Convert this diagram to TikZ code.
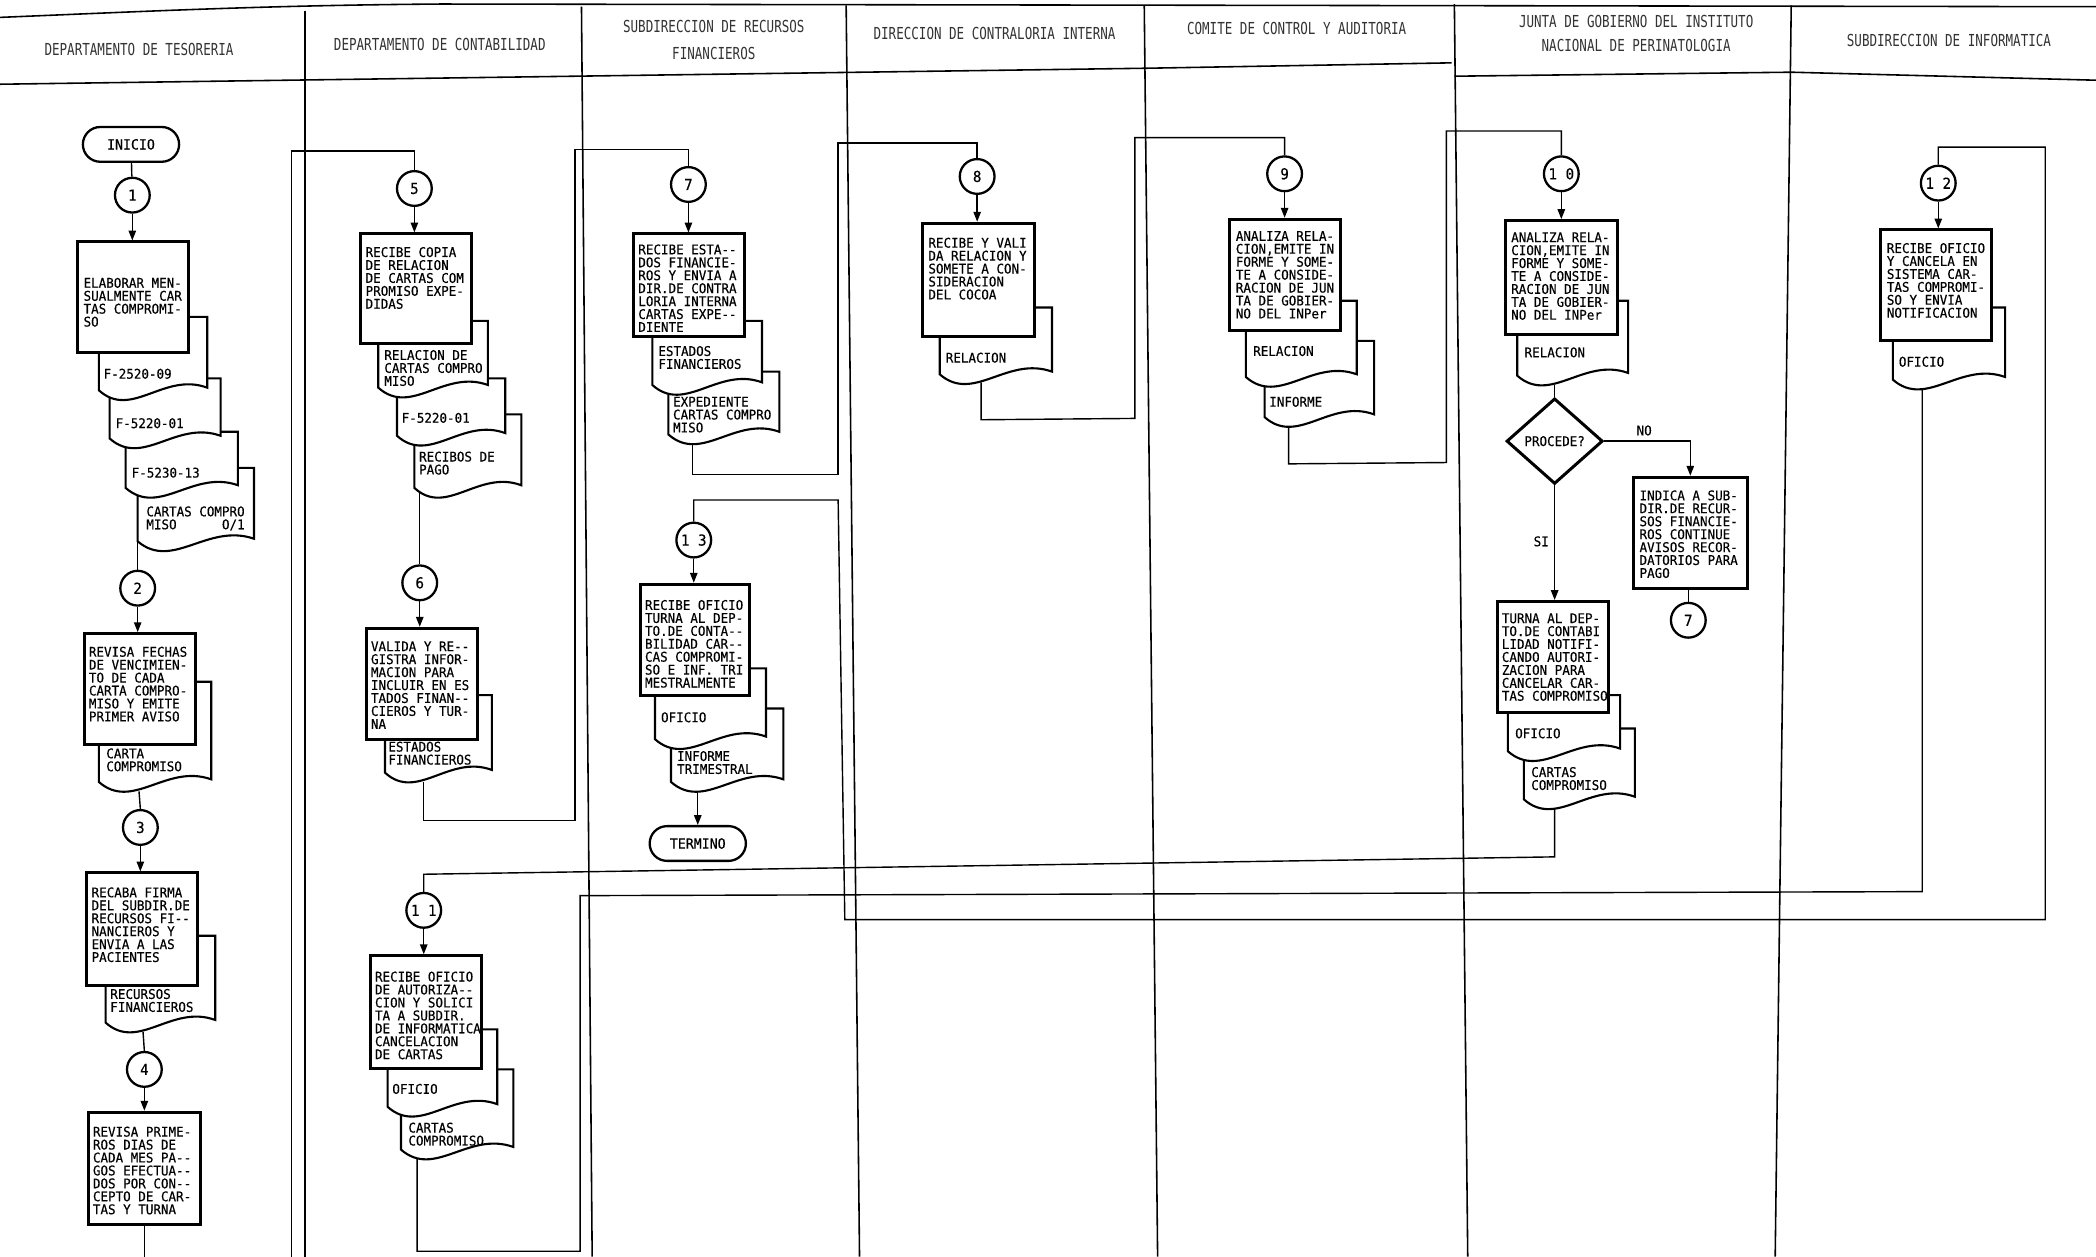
\documentclass[tikz,border=0pt]{standalone}
\usepackage{fontspec}
\newfontfamily\boxfont[FakeStretch=0.94,FakeBold=0.3]{DejaVu Sans Mono}
\newfontfamily\hdfont[FakeStretch=0.76]{DejaVu Sans Mono}
\usetikzlibrary{shapes.misc,shapes.geometric,arrows.meta,calc}
\newcommand{\pxu}{0.013367cm}
\newcommand{\dblh}{-\kern0pt-}
\pgfdeclarelayer{back}
\pgfdeclarelayer{bg}
\pgfsetlayers{back,bg,main}
\tikzset{
  procbox/.style={draw, fill=white, line width=0.85pt, rectangle, inner sep=0pt},
  conn/.style={draw, fill=white, circle, line width=0.65pt, inner sep=0pt, minimum size=26*\pxu, font=\boxfont\fontsize{4.3}{4.5}\selectfont},
  term/.style={draw, fill=white, rounded rectangle, line width=0.65pt, inner sep=0pt, minimum width=72*\pxu, minimum height=26*\pxu, font=\boxfont\fontsize{4}{4.5}\selectfont},
  dia/.style={draw, fill=white, diamond, line width=0.85pt, inner sep=0pt, minimum width=72*\pxu, minimum height=64*\pxu, font=\boxfont\fontsize{3.8}{3.7}\selectfont},
  btxt/.style={inner sep=0pt, align=left, anchor=north west, font=\boxfont\fontsize{3.8}{3.68}\selectfont},
  lbl/.style={inner sep=0pt, font=\boxfont\fontsize{3.8}{3.7}\selectfont},
  docst/.style={draw, fill=white, line width=0.6pt},
  flow/.style={draw, line width=0.4pt},
  arr/.style={flow, -{Triangle[length=2.8pt,width=2.1pt]}},
  lane/.style={draw, line width=0.45pt},
  htxt/.style={inner sep=0pt, align=center, font=\hdfont\fontsize{4.7}{7.4}\selectfont, text=black!80},
}
\newcommand{\pbox}[5]{\node[procbox, minimum width={(#4-#2)*\pxu}, minimum height={(#5-#3)*\pxu}] (#1) at ({(#2+#4)/2},{(#3+#5)/2}) {};}
\newcommand{\docu}[5]{%
  \draw[docst] (#2,#3) -- (#2,#5) .. controls ($(#2,#5)!0.3!(#4,#5)+(0,22)$) and ($(#2,#5)!0.6!(#4,#5)+(0,-14)$) .. ($(#4,#5)+(0,-2)$) -- (#4,#3) -- cycle;
  \coordinate (#1) at ($(#2,#5)!0.27!(#4,#5)+(0,7)$);}
\newcommand{\tx}[4]{\node[btxt] (#1) at (#2,{#3-3.7}) {#4};}
\begin{document}
\begin{tikzpicture}[x=0.013367cm, y=-0.013367cm]
\useasboundingbox (0,0) rectangle (1568,940);
\begin{pgfonlayer}{back}
\fill[white] (0,0) rectangle (1568,940);
\draw[lane] (0,13) .. controls (120,8) and (200,4) .. (330,3) -- (1568,5);
\draw[lane] (0,63) -- (430,57) -- (860,51) -- (1086,47);
\draw[lane] (1088,57) -- (1340,54) -- (1568,60);
\draw[lane] (228,8) -- (228,940);
\draw[lane] (435,5) -- (443,940);
\draw[lane] (633,4) -- (643,940);
\draw[lane] (856,4) -- (866,940);
\draw[lane] (1088,3) -- (1098,940);
\draw[lane] (1340,4) -- (1328,940);
\end{pgfonlayer}

% headers
\node[htxt] (h1) at (104,37) {DEPARTAMENTO DE TESORERIA};
\node[htxt] (h2) at (329,33) {DEPARTAMENTO DE CONTABILIDAD};
\node[htxt, font=\hdfont\fontsize{4.7}{7.6}\selectfont] (h3) at (534,30) {SUBDIRECCION DE RECURSOS\\FINANCIEROS};
\node[htxt] (h4) at (744,25) {DIRECCION DE CONTRALORIA INTERNA};
\node[htxt] (h5) at (970,21) {COMITE DE CONTROL Y AUDITORIA};
\node[htxt, font=\hdfont\fontsize{4.7}{6.8}\selectfont] (h6) at (1224,25) {JUNTA DE GOBIERNO DEL INSTITUTO\\NACIONAL DE PERINATOLOGIA};
\node[htxt] (h7) at (1458,30) {SUBDIRECCION DE INFORMATICA};

% Lane 1
\node[term] (inicio) at (98,108) {INICIO};
\node[conn] (c1) at (99,146) {1};
\docu{d1d}{103}{350}{190}{405}
\tx{t1d}{109}{382}{CARTAS COMPRO\\MISO~~~~~~O/1}
\docu{d1c}{94}{323}{178}{365}
\tx{t1c}{98}{353}{F-5230-13}
\docu{d1b}{82}{283}{165}{328}
\tx{t1b}{86}{316}{F-5220-01}
\docu{d1a}{74}{237}{155}{292}
\tx{t1a}{77}{279}{F-2520-09}
\pbox{b1}{58}{181}{141}{264}
\tx{t1}{62}{211}{ELABORAR MEN-\\SUALMENTE CAR\\TAS COMPROMI-\\SO}

\node[conn] (c2) at (103,440) {2};
\docu{d2}{74}{510}{158}{585}
\tx{t2d}{79}{563}{CARTA\\COMPROMISO}
\pbox{b2}{63}{474}{146}{557}
\tx{t2}{66}{487}{REVISA FECHAS\\DE VENCIMIEN-\\TO DE CADA\\CARTA COMPRO-\\MISO Y EMITE\\PRIMER AVISO}

\node[conn] (c3) at (105,619) {3};
\docu{d3}{79}{700}{161}{765}
\tx{t3d}{82}{743}{RECURSOS\\FINANCIEROS}
\pbox{b3}{65}{653}{148}{737}
\tx{t3}{68}{667}{RECABA FIRMA\\DEL SUBDIR.DE\\RECURSOS FI\dblh\\NANCIEROS Y\\ENVIA A LAS\\PACIENTES}

\node[conn] (c4) at (108,800) {4};
\pbox{b4}{66}{832}{150}{916}
\tx{t4}{69}{846}{REVISA PRIME-\\ROS DIAS DE\\CADA MES PA\dblh\\GOS EFECTUA\dblh\\DOS POR CON\dblh\\CEPTO DE CAR-\\TAS Y TURNA}

% Lane 2
\node[conn] (c5) at (310,141) {5};
\docu{d5c}{310}{310}{390}{365}
\tx{t5c}{313}{341}{RECIBOS DE\\PAGO}
\docu{d5b}{297}{283}{378}{326}
\tx{t5b}{300}{312}{F-5220-01}
\docu{d5a}{283}{240}{365}{290}
\tx{t5a}{287}{265}{RELACION DE\\CARTAS COMPRO\\MISO}
\pbox{b5}{270}{175}{353}{257}
\tx{t5}{273}{188}{RECIBE COPIA\\DE RELACION\\DE CARTAS COM\\PROMISO EXPE-\\DIDAS}

\node[conn] (c6) at (314,436) {6};
\docu{d6}{288}{520}{368}{578}
\tx{t6d}{290}{558}{ESTADOS\\FINANCIEROS}
\pbox{b6}{274}{470}{357}{553}
\tx{t6}{277}{483}{VALIDA Y RE\dblh\\GISTRA INFOR-\\MACION PARA\\INCLUIR EN ES\\TADOS FINAN\dblh\\CIEROS Y TUR-\\NA}

\node[conn] (c11) at (317,681) {1 1};
\docu{d11b}{300}{800}{384}{860}
\tx{t11b}{305}{843}{CARTAS\\COMPROMISO}
\docu{d11a}{290}{770}{372}{828}
\tx{t11a}{293}{814}{OFICIO}
\pbox{b11}{277}{715}{360}{799}
\tx{t11}{280}{730}{RECIBE OFICIO\\DE AUTORIZA\dblh\\CION Y SOLICI\\TA A SUBDIR.\\DE INFORMATICA\\CANCELACION\\DE CARTAS}

% Lane 3
\node[conn] (c7) at (515,138) {7};
\docu{d7b}{500}{278}{583}{325}
\tx{t7b}{503}{300}{EXPEDIENTE\\CARTAS COMPRO\\MISO}
\docu{d7a}{488}{240}{570}{288}
\tx{t7a}{492}{262}{ESTADOS\\FINANCIEROS}
\pbox{b7}{474}{175}{557}{252}
\tx{t7}{477}{186}{RECIBE ESTA\dblh\\DOS FINANCIE-\\ROS Y ENVIA A\\DIR.DE CONTRA\\LORIA INTERNA\\CARTAS EXPE\dblh\\DIENTE}

\node[conn] (c13) at (519,404) {1 3};
\docu{d13b}{502}{530}{586}{585}
\tx{t13b}{506}{565}{INFORME\\TRIMESTRAL}
\docu{d13a}{490}{500}{573}{553}
\tx{t13a}{494}{536}{OFICIO}
\pbox{b13}{479}{437}{561}{520}
\tx{t13}{482}{452}{RECIBE OFICIO\\TURNA AL DEP-\\TO.DE CONTA\dblh\\BILIDAD CAR\dblh\\CAS COMPROMI-\\SO E INF. TRI\\MESTRALMENTE}
\node[term] (fin) at (522,631) {TERMINO};

% Lane 4
\node[conn] (c8) at (731,132) {8};
\docu{d8}{703}{230}{787}{280}
\tx{t8d}{707}{267}{RELACION}
\pbox{b8}{690}{167}{774}{252}
\tx{t8}{694}{181}{RECIBE Y VALI\\DA RELACION Y\\SOMETE A CON-\\SIDERACION\\DEL COCOA}

% Lane 5
\node[conn] (c9) at (961,130) {9};
\docu{d9b}{946}{255}{1028}{312}
\tx{t9b}{949}{300}{INFORME}
\docu{d9a}{932}{225}{1015}{282}
\tx{t9a}{937}{262}{RELACION}
\pbox{b9}{920}{164}{1003}{247}
\tx{t9}{924}{176}{ANALIZA RELA-\\CION,EMITE IN\\FORME Y SOME-\\TE A CONSIDE-\\RACION DE JUN\\TA DE GOBIER-\\NO DEL INPer}

% Lane 6
\node[conn] (c10) at (1168,130) {1 0};
\docu{d10}{1135}{225}{1218}{281}
\tx{t10d}{1140}{263}{RELACION}
\pbox{b10}{1126}{165}{1210}{250}
\tx{t10}{1130}{177}{ANALIZA RELA-\\CION,EMITE IN\\FORME Y SOME-\\TE A CONSIDE-\\RACION DE JUN\\TA DE GOBIER-\\NO DEL INPer}
\node[dia] (dia) at (1163,330) {PROCEDE?};
\pbox{bno}{1222}{357}{1307}{440}
\tx{tno}{1226}{370}{INDICA A SUB-\\DIR.DE RECUR-\\SOS FINANCIE-\\ROS CONTINUE\\AVISOS RECOR-\\DATORIOS PARA\\PAGO}
\node[conn] (c7b) at (1263,464) {7};
\docu{d10sb}{1140}{545}{1223}{598}
\tx{t10sb}{1145}{577}{CARTAS\\COMPROMISO}
\docu{d10sa}{1128}{520}{1212}{562}
\tx{t10sa}{1133}{548}{OFICIO}
\pbox{bsi}{1120}{450}{1203}{533}
\tx{tsi}{1123}{462}{TURNA AL DEP-\\TO.DE CONTABI\\LIDAD NOTIFI-\\CANDO AUTORI-\\ZACION PARA\\CANCELAR CAR-\\TAS COMPROMISO}
\node[lbl] (lno) at (1230,322) {NO};
\node[lbl] (lsi) at (1153,405) {SI};

% Lane 7
\node[conn] (c12) at (1450,137) {1 2};
\docu{d12}{1416}{230}{1500}{284}
\tx{t12d}{1420}{270}{OFICIO}
\pbox{b12}{1407}{172}{1490}{255}
\tx{t12}{1411}{185}{RECIBE OFICIO\\Y CANCELA EN\\SISTEMA CAR-\\TAS COMPROMI-\\SO Y ENVIA\\NOTIFICACION}

% connectors
\begin{pgfonlayer}{bg}
\coordinate (e1) at (103,395);
\coordinate (e2) at (104,592);
\coordinate (e3) at (107,772);
\coordinate (e4) at (108,940);
\coordinate (e5in) at (218,940);
\coordinate (e5) at (314,368);
\coordinate (e6) at (317,585);
\coordinate (e7) at (518,331);
\coordinate (e8) at (734,286);
\coordinate (e9) at (964,319);
\coordinate (e10) at (1163,288);
\coordinate (e10s) at (1163,605);
\coordinate (e11) at (312,866);
\coordinate (e12) at (1438,290);
\coordinate (e13) at (522,591);
\draw[flow] (inicio) -- (c1);
\draw[arr] (c1) -- (c1 |- b1.north);
\draw[flow] (e1) -- (c2.north);
\draw[arr] (c2) -- (c2 |- b2.north);
\draw[flow] (e2) -- (c3.north);
\draw[arr] (c3) -- (c3 |- b3.north);
\draw[flow] (e3) -- (c4.north);
\draw[arr] (c4) -- (c4 |- b4.north);
\draw[flow] (b4.south) -- (e4);
\draw[flow] (e5in) -- (218,113) -| (c5.north);
\draw[arr] (c5) -- (c5 |- b5.north);
\draw[flow] (e5) -- (c6.north);
\draw[arr] (c6) -- (c6 |- b6.north);
\draw[flow] (e6) -- (317,614) -- (430,614) -- (430,112) -| (c7.north);
\draw[arr] (c7) -- (c7 |- b7.north);
\draw[flow] (e7) -- (518,355) -- (627,355) -- (627,107) -| (c8.north);
\draw[arr] (c8) -- (c8 |- b8.north);
\draw[flow] (e8) -- (734,314) -- (849,313) -- (849,103) -| (c9.north);
\draw[arr] (c9) -- (c9 |- b9.north);
\draw[flow] (e9) -- (964,347) -- (1082,346) -- (1082,98) -| (c10.north);
\draw[arr] (c10) -- (c10 |- b10.north);
\draw[flow] (e10) -- (dia.north);
\draw[arr] (dia.east) -| (bno.north);
\draw[flow] (c7b.north |- bno.south) -- (c7b.north);
\draw[arr] (dia.south) -- (dia.south |- bsi.north);
\draw[flow] (e10s) -- (1163,641) -- (317,654) -- (c11.north);
\draw[arr] (c11) -- (c11 |- b11.north);
\draw[flow] (e11) -- (312,936) -- (434,936) -- (434,670) -- (1438,667) -- (e12);
\draw[arr] (c12) -- (c12 |- b12.north);
\draw[flow] (c13.north) -- (519,374) -- (627,374) -- (632,688) -- (1530,688) -- (1530,110) -| (c12.north);
\draw[arr] (c13) -- (c13 |- b13.north);
\draw[arr] (e13) -- (fin.north);
\end{pgfonlayer}
\end{tikzpicture}
\end{document}
